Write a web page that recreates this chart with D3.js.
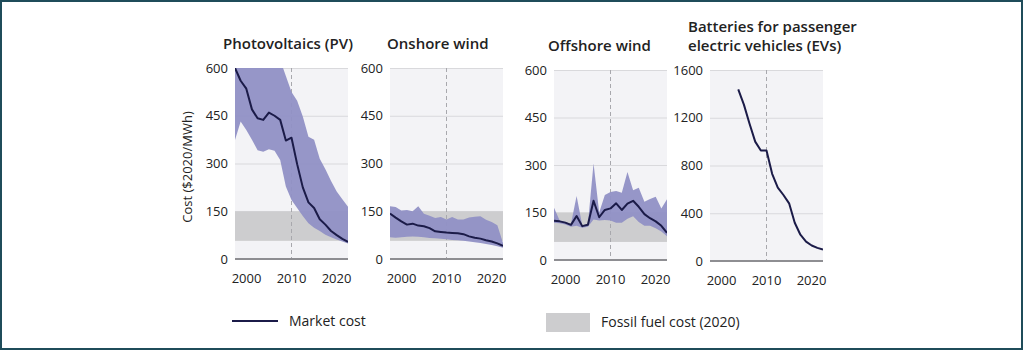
<!DOCTYPE html>
<meta charset="utf-8">
<script src="https://d3js.org/d3.v7.min.js"></script>
<style>
  body { margin: 0; background: #fff; }
  text { font-family: "Open Sans", "Noto Sans", sans-serif; fill: #222; }
</style>
<div id="chart"></div>
<script>
// ---- data ----
var years = [2000, 2001, 2002, 2003, 2004, 2005, 2006, 2007, 2008, 2009, 2010,
             2011, 2012, 2013, 2014, 2015, 2016, 2017, 2018, 2019, 2020];

// photovoltaics, $2020/MWh (upper range runs off the top before 2008)
var pvMarket = [600, 560, 535, 470, 442, 437, 460, 450, 437, 372, 381, 298, 225, 178, 160, 125, 108, 88, 75, 63, 54];
var pvHigh   = [700, 700, 700, 700, 700, 700, 700, 700, 625, 575, 525, 497, 448, 384, 375, 315, 282, 245, 212, 188, 164];
var pvLow    = [374, 432, 405, 375, 342, 337, 345, 340, 311, 228, 185, 160, 135, 112, 98, 88, 76, 68, 61, 55, 49];

// onshore wind
var onMarket = [143, 130, 118, 108, 111, 105, 103, 97, 87, 85, 83, 82, 81, 78, 71, 67, 64, 59, 55, 49, 41];
var onHigh   = [166, 163, 152, 154, 150, 166, 142, 136, 129, 132, 124, 132, 124, 124, 130, 133, 134, 123, 116, 106, 50];
var onLow    = [68, 67, 68, 70, 71, 70, 68, 66, 65, 64, 62, 60, 59, 57, 55, 53, 50, 47, 44, 40, 35];

// offshore wind
var offMarket = [124, 122, 118, 111, 139, 107, 111, 187, 135, 158, 163, 179, 158, 178, 187, 168, 145, 132, 122, 108, 86];
var offHigh   = [165, 125, 120, 114, 202, 110, 114, 305, 150, 205, 215, 218, 212, 278, 220, 228, 184, 193, 200, 163, 192];
var offLow    = [118, 116, 112, 105, 108, 102, 105, 128, 125, 126, 125, 118, 118, 130, 138, 120, 108, 108, 100, 90, 75];

// EV batteries (same units as printed on the axis)
var evYears  = [2005, 2006, 2007, 2008, 2009, 2010, 2011, 2012, 2013, 2014, 2015, 2016, 2017, 2018, 2019, 2020];
var evMarket = [1437, 1310, 1150, 1000, 926, 926, 730, 615, 553, 483, 320, 220, 162, 130, 110, 96];

var fossilRange = [57, 150];   // fossil fuel cost (2020)

var costTicks = [0, 150, 300, 450, 600];
var evTicks = [0, 400, 800, 1200, 1600];
var yearTicks = [2000, 2010, 2020];

var titles = [["Photovoltaics (PV)"], ["Onshore wind"], ["Offshore wind"],
              ["Batteries for passenger", "electric vehicles (EVs)"]];

// ---- layout ----
var width = 1023, height = 350, plotW = 113;
var panels = [
  {left: 235, top: 68, bottom: 259, titleX: -12, titleY: 49, ymax: 600, ticks: costTicks,
   market: pvMarket, high: pvHigh, low: pvLow, band: true},
  {left: 390, top: 68, bottom: 259, titleX: -3, titleY: 49, ymax: 600, ticks: costTicks,
   market: onMarket, high: onHigh, low: onLow, band: true},
  {left: 554, top: 70, bottom: 260, titleX: -6, titleY: 51, ymax: 600, ticks: costTicks,
   market: offMarket, high: offHigh, low: offLow, band: true},
  {left: 710, top: 70, bottom: 261, titleX: -22, titleY: 32, ymax: 1600, ticks: evTicks,
   market: evMarket, band: false}
];

var svg = d3.select("#chart").append("svg")
    .attr("width", width)
    .attr("height", height);

// frame
svg.append("rect")
    .attr("x", 1).attr("y", 1)
    .attr("width", width - 2).attr("height", height - 2)
    .attr("fill", "#fff")
    .attr("stroke", "#1f4c5a")
    .attr("stroke-width", 2);

panels.forEach(function(p, i) {
  var x = d3.scaleLinear().domain([2000, 2020]).range([p.left, p.left + plotW]);
  // year labels are pulled in a little from the panel edges
  var xl = d3.scaleLinear().domain([2000, 2020]).range([p.left + 11, p.left + 101]);
  var y = d3.scaleLinear().domain([0, p.ymax]).range([p.bottom, p.top]);

  var g = svg.append("g");

  g.append("clipPath").attr("id", "clip" + i)
    .append("rect")
      .attr("x", p.left).attr("y", p.top)
      .attr("width", plotW).attr("height", p.bottom - p.top);

  // panel background
  g.append("rect")
      .attr("x", p.left).attr("y", p.top)
      .attr("width", plotW).attr("height", p.bottom - p.top)
      .attr("fill", "#f3f3f6");

  // y axis with gridlines
  var yAxis = g.append("g")
      .attr("transform", "translate(" + p.left + ",0)")
      .call(d3.axisLeft(y).tickValues(p.ticks).tickFormat(d3.format("d"))
        .tickSize(-plotW).tickPadding(7));
  yAxis.select(".domain").remove();
  yAxis.selectAll(".tick line").attr("stroke", "#d9d9dc").attr("stroke-width", 1.2);
  yAxis.selectAll(".tick text").attr("font-size", 13).attr("fill", "#2a2a2a");

  // fossil fuel band
  if (p.band) {
    g.append("rect")
        .attr("x", p.left).attr("y", y(fossilRange[1]))
        .attr("width", plotW).attr("height", y(fossilRange[0]) - y(fossilRange[1]))
        .attr("fill", "#cdcdcf");
  }

  // 2010 reference
  g.append("line")
      .attr("x1", x(2010)).attr("x2", x(2010))
      .attr("y1", p.top).attr("y2", p.bottom)
      .attr("stroke", "#a8a8ad")
      .attr("stroke-width", 1)
      .attr("stroke-dasharray", "4,3");

  var clipped = g.append("g").attr("clip-path", "url(#clip" + i + ")");

  if (p.high) {
    var area = d3.area()
        .x(function(d, j) { return x(years[j]); })
        .y0(function(d, j) { return y(p.low[j]); })
        .y1(function(d) { return y(d); });
    clipped.append("path")
        .datum(p.high)
        .attr("d", area)
        .attr("fill", "#9090c5")
        .attr("fill-opacity", 0.95);
  }

  // zero line
  g.append("line")
      .attr("x1", p.left).attr("x2", p.left + plotW)
      .attr("y1", y(0)).attr("y2", y(0))
      .attr("stroke", "#8e8e92")
      .attr("stroke-width", 2);

  var xs = p.high ? years : evYears;
  var line = d3.line()
      .x(function(d, j) { return x(xs[j]); })
      .y(function(d) { return y(d); });
  clipped.append("path")
      .datum(p.market)
      .attr("d", line)
      .attr("fill", "none")
      .attr("stroke", "#1b1b48")
      .attr("stroke-width", 2)
      .attr("stroke-linejoin", "round");

  // x axis labels
  var xAxis = g.append("g")
      .attr("transform", "translate(0," + p.bottom + ")")
      .call(d3.axisBottom(xl).tickValues(yearTicks).tickFormat(d3.format("d")).tickSize(0).tickPadding(15));
  xAxis.select(".domain").remove();
  xAxis.selectAll(".tick text").attr("font-size", 13).attr("fill", "#2a2a2a");

  // panel title
  var t = g.append("text")
      .attr("x", p.left + p.titleX)
      .attr("y", p.titleY)
      .attr("font-size", 15)
      .attr("font-weight", 600)
      .attr("fill", "#1a1a1a");
  titles[i].forEach(function(s, k) {
    t.append("tspan").attr("x", p.left + p.titleX).attr("dy", k ? 19 : 0).text(s);
  });
});

// y axis title
svg.append("text")
    .attr("transform", "translate(187,167) rotate(-90)")
    .attr("text-anchor", "middle")
    .attr("dy", "0.35em")
    .attr("font-size", 13)
    .attr("fill", "#2a2a2a")
    .text("Cost ($2020/MWh)");

// legend
var legend = svg.append("g");
legend.append("line")
    .attr("x1", 232).attr("x2", 278)
    .attr("y1", 321).attr("y2", 321)
    .attr("stroke", "#1b1b48").attr("stroke-width", 2);
legend.append("text")
    .attr("x", 289).attr("y", 321).attr("dy", "0.35em")
    .attr("font-size", 14)
    .text("Market cost");
legend.append("rect")
    .attr("x", 546).attr("y", 313)
    .attr("width", 44).attr("height", 19)
    .attr("fill", "#cdcdcf");
legend.append("text")
    .attr("x", 601).attr("y", 322).attr("dy", "0.35em")
    .attr("font-size", 14)
    .text("Fossil fuel cost (2020)");
</script>
